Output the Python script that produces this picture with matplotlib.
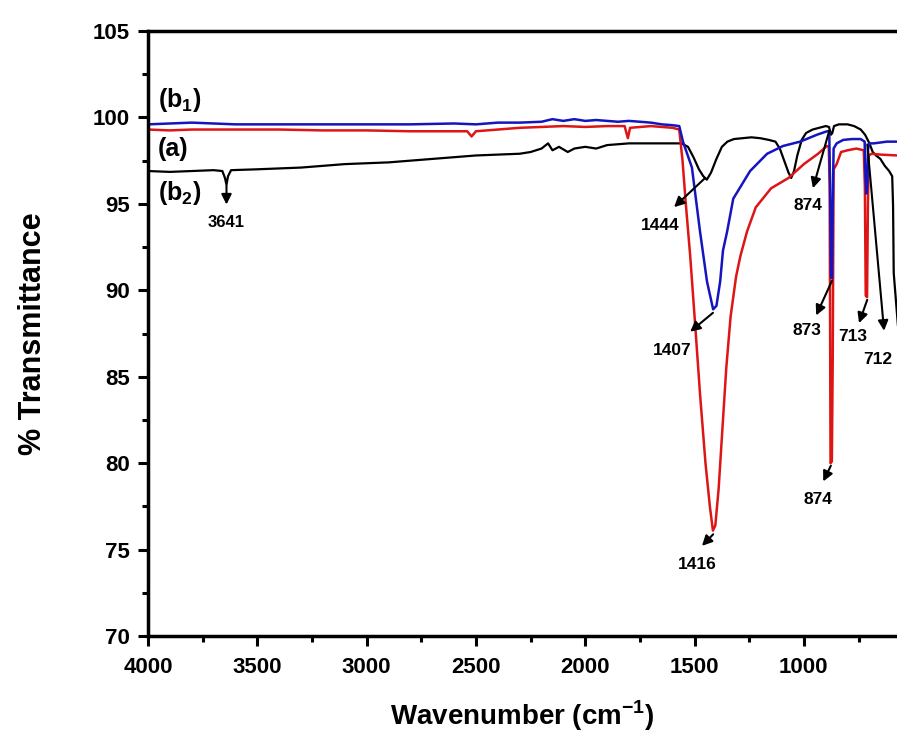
import matplotlib
matplotlib.use('Agg')
import matplotlib.pyplot as plt
from matplotlib.ticker import MultipleLocator

plt.rcParams['font.family'] = ['Liberation Sans', 'DejaVu Sans']
plt.rcParams['font.weight'] = 'bold'
plt.rcParams['mathtext.fontset'] = 'custom'
plt.rcParams['mathtext.rm'] = 'Liberation Sans:bold'
plt.rcParams['mathtext.bf'] = 'Liberation Sans:bold'

# black spectrum
black_w = [4000, 3900, 3800, 3700, 3660, 3648, 3641, 3634, 3620, 3500, 3400, 3300, 3200, 3100,
           3000, 2900, 2800, 2700, 2600, 2500, 2400, 2300, 2250, 2200, 2170, 2150, 2120, 2080,
           2050, 2000, 1950, 1900, 1850, 1800, 1700, 1600, 1560, 1530, 1505, 1480, 1460, 1444,
           1425, 1400, 1375, 1350, 1320, 1280, 1240, 1200, 1160, 1130, 1110, 1090, 1070, 1058,
           1045, 1030, 1010, 990, 960, 930, 900, 885, 876, 870, 862, 840, 800, 770, 740, 720,
           700, 685, 670, 650, 630, 610, 596, 592, 589, 570]
black_t = [96.9, 96.85, 96.9, 96.95, 96.9, 96.5, 96.1, 96.6, 96.95, 97.0, 97.05, 97.1, 97.2, 97.3,
           97.35, 97.4, 97.5, 97.6, 97.7, 97.8, 97.85, 97.9, 98.0, 98.2, 98.5, 98.1, 98.3, 98.0,
           98.2, 98.3, 98.2, 98.4, 98.45, 98.5, 98.5, 98.5, 98.5, 98.3, 97.7, 97.0, 96.6, 96.4,
           96.8, 97.6, 98.3, 98.6, 98.75, 98.8, 98.85, 98.8, 98.7, 98.6, 98.2, 97.5, 96.8, 96.5,
           96.9, 97.8, 98.7, 99.1, 99.3, 99.4, 99.5, 99.45, 99.0, 99.1, 99.5, 99.6, 99.6, 99.5,
           99.3, 99.0, 98.5, 98.0, 97.8, 97.6, 97.2, 96.9, 96.6, 94.9, 91.0, 88.0]

# red spectrum
red_w = [4000, 3900, 3800, 3600, 3400, 3200, 3000, 2800, 2600, 2540, 2520, 2500, 2400, 2300,
         2200, 2100, 2000, 1900, 1820, 1805, 1795, 1700, 1600, 1570, 1555, 1540, 1520, 1500,
         1475, 1450, 1430, 1416, 1405, 1390, 1375, 1355, 1335, 1310, 1290, 1260, 1220, 1150,
         1070, 1000, 935, 895, 886, 882, 878, 872, 868, 864, 850, 830, 800, 760, 726, 721,
         717, 711, 707, 703, 690, 650, 570]
red_t = [99.3, 99.25, 99.3, 99.3, 99.3, 99.25, 99.25, 99.2, 99.2, 99.2, 98.9, 99.2, 99.3, 99.4,
         99.45, 99.5, 99.45, 99.5, 99.5, 98.8, 99.4, 99.5, 99.4, 99.3, 97.5, 95.0, 92.0, 88.5,
         84.0, 80.0, 77.5, 76.1, 76.4, 78.5, 81.5, 85.5, 88.5, 90.8, 92.0, 93.4, 94.8, 95.9,
         96.5, 97.3, 97.9, 98.35, 98.3, 96.0, 80.0, 80.1, 86.0, 97.0, 97.3, 98.0, 98.1, 98.2,
         98.1, 96.0, 89.7, 89.6, 95.0, 97.8, 97.9, 97.85, 97.8]

# blue spectrum
blue_w = [4000, 3900, 3800, 3700, 3600, 3400, 3200, 3000, 2800, 2600, 2500, 2400, 2300, 2200,
          2150, 2100, 2050, 2000, 1950, 1900, 1850, 1800, 1750, 1700, 1650, 1600, 1570, 1553,
          1512, 1475, 1443, 1415, 1400, 1383, 1370, 1351, 1323, 1246, 1168, 1095, 1017, 940,
          894, 884, 880, 876, 871, 868, 864, 850, 820, 780, 740, 722, 718, 714, 710, 706, 700,
          680, 650, 620, 570]
blue_t = [99.6, 99.65, 99.7, 99.65, 99.6, 99.6, 99.6, 99.6, 99.6, 99.65, 99.6, 99.7, 99.7, 99.75,
          99.9, 99.8, 99.9, 99.8, 99.85, 99.8, 99.75, 99.8, 99.75, 99.7, 99.6, 99.55, 99.5, 98.6,
          97.1, 93.4, 90.5, 88.9, 89.1, 90.5, 92.3, 93.4, 95.3, 96.9, 97.9, 98.35, 98.6, 99.0,
          99.2, 99.2, 96.0, 90.8, 90.7, 95.0, 98.2, 98.5, 98.7, 98.75, 98.75, 98.6, 96.5, 95.6,
          96.0, 98.2, 98.5, 98.5, 98.55, 98.6, 98.6]

# peak labels: text, arrow tail (on curve), arrow head, label position
peak_labels = ['3641', '1444', '874', '1407', '1416', '873', '874', '713', '712']
peak_tail = [(3641, 96.2), (1443, 96.6), (880, 99.4), (1406, 88.8), (1406, 76.0),
             (866, 90.7), (871, 80.0), (706, 89.6), (711, 98.6)]
peak_head = [(3641, 94.8), (1603, 94.7), (962, 95.75), (1530, 87.5), (1475, 75.1),
             (949, 88.4), (917, 78.8), (752, 87.95), (632, 87.5)]
label_pos = [(3641, 93.9), (1658, 93.75), (981, 94.9), (1603, 86.5), (1489, 74.15),
             (985, 87.7), (935, 77.9), (775, 87.3), (662, 86.0)]

fig = plt.figure(figsize=(8.97, 7.40), dpi=100)
ax = fig.add_axes([0.165, 0.1405, 0.835, 0.8176])

ax.plot(black_w, black_t, color='black', lw=1.6)
ax.plot(red_w, red_t, color='#dd1515', lw=1.8)
ax.plot(blue_w, blue_t, color='#1515c0', lw=1.8)

for txt, tail, head, pos in zip(peak_labels, peak_tail, peak_head, label_pos):
    ax.annotate('', xy=head, xytext=tail,
                arrowprops=dict(arrowstyle='-|>', color='black', lw=1.5, mutation_scale=15))
    size = 12 if txt == '3641' else 12.5
    ax.text(pos[0], pos[1], txt, ha='center', va='center', fontsize=size, fontweight='bold')

# series labels
ax.text(3955, 101.0, r'(b$_{1}$)', fontsize=18, ha='left', va='center')
ax.text(3955, 98.2, '(a)', fontsize=18, ha='left', va='center')
ax.text(3955, 95.6, r'(b$_{2}$)', fontsize=18, ha='left', va='center')

ax.set_xlim(4000, 574)
ax.set_ylim(70, 105)
ax.xaxis.set_major_locator(MultipleLocator(500))
ax.xaxis.set_minor_locator(MultipleLocator(250))
ax.yaxis.set_major_locator(MultipleLocator(5))
ax.yaxis.set_minor_locator(MultipleLocator(2.5))
ax.tick_params(which='major', direction='out', length=7, width=2.2, labelsize=16)
ax.tick_params(axis='x', which='major', pad=8)
ax.tick_params(axis='y', which='major', pad=6)
ax.tick_params(which='minor', direction='out', length=4, width=2.2)
ax.spines['right'].set_visible(False)
for s in ['left', 'bottom', 'top']:
    ax.spines[s].set_linewidth(2.5)

ax.set_xlabel(r'Wavenumber (cm$^{-1}$)', fontsize=20, fontweight='bold', labelpad=15)
ax.set_ylabel('% Transmittance', fontsize=22, fontweight='bold', labelpad=32)

plt.savefig('out.png', dpi=100)
